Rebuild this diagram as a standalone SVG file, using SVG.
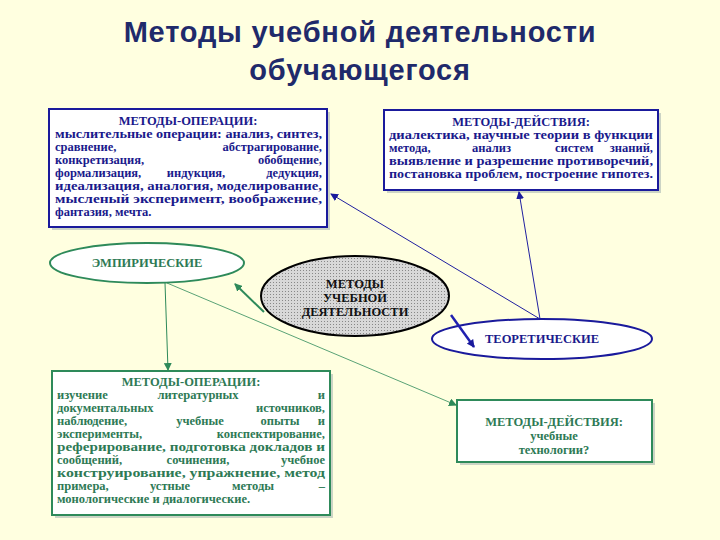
<svg xmlns="http://www.w3.org/2000/svg" width="720" height="540" viewBox="0 0 720 540">
<style>
.t{font-family:"Liberation Serif",serif;font-weight:bold;font-size:12.5px}
.b{fill:#1a1a8c}.g{fill:#2e7a55}
.h{font-family:"Liberation Sans",sans-serif;font-weight:bold;font-size:29px;letter-spacing:0.8px;fill:#1f2a6b;text-anchor:middle}
</style>
<defs>
<marker id="ab" markerWidth="8" markerHeight="8" refX="7" refY="4" orient="auto" markerUnits="userSpaceOnUse"><path d="M0,0L8,4L0,8z" fill="#1a1a9c"/></marker>
<marker id="ag" markerWidth="8" markerHeight="8" refX="7" refY="4" orient="auto" markerUnits="userSpaceOnUse"><path d="M0,0L8,4L0,8z" fill="#2e8a5a"/></marker>
<pattern id="p" width="3" height="3" patternUnits="userSpaceOnUse"><rect width="3" height="3" fill="#d8d8d8"/><rect width="1" height="1" fill="#888"/></pattern>
</defs>
<rect width="720" height="540" fill="#ffffe0"/>
<text class="h" x="360" y="42">Методы учебной деятельности</text>
<text class="h" x="360" y="80">обучающегося</text>
<g id="ops1">
<rect x="52" y="112" width="278" height="118" fill="#9aa" opacity="0.5"/>
<rect x="49" y="109" width="278" height="118" fill="#fff" stroke="#1a1a9c" stroke-width="2"/>
<text class="t b" x="188" y="125" text-anchor="middle">МЕТОДЫ-ОПЕРАЦИИ:</text>
<text class="t b" x="55" y="138" textLength="267" lengthAdjust="spacingAndGlyphs">мыслительные операции: анализ, синтез,</text>
<text class="t b" x="55" y="151">сравнение,</text><text class="t b" x="322" y="151" text-anchor="end">абстрагирование,</text>
<text class="t b" x="55" y="164">конкретизация,</text><text class="t b" x="322" y="164" text-anchor="end">обобщение,</text>
<text class="t b" x="55" y="177">формализация,</text><text class="t b" x="196" y="177" text-anchor="middle">индукция,</text><text class="t b" x="322" y="177" text-anchor="end">дедукция,</text>
<text class="t b" x="55" y="190" textLength="267" lengthAdjust="spacingAndGlyphs">идеализация, аналогия, моделирование,</text>
<text class="t b" x="55" y="203" textLength="267" lengthAdjust="spacingAndGlyphs">мысленый эксперимент, воображение,</text>
<text class="t b" x="55" y="216">фантазия, мечта.</text>
</g>
<g id="act1">
<rect x="387" y="113" width="274" height="80" fill="#9aa" opacity="0.5"/>
<rect x="384" y="110" width="274" height="80" fill="#fff" stroke="#1a1a9c" stroke-width="2"/>
<text class="t b" x="521" y="126" text-anchor="middle">МЕТОДЫ-ДЕЙСТВИЯ:</text>
<text class="t b" x="389" y="139" textLength="264" lengthAdjust="spacingAndGlyphs">диалектика, научные теории в функции</text>
<text class="t b" x="389" y="152">метода,</text><text class="t b" x="472" y="152">анализ</text><text class="t b" x="555" y="152">систем</text><text class="t b" x="653" y="152" text-anchor="end">знаний,</text>
<text class="t b" x="389" y="165" textLength="264" lengthAdjust="spacingAndGlyphs">выявление и разрешение противоречий,</text>
<text class="t b" x="389" y="178" textLength="264" lengthAdjust="spacingAndGlyphs">постановка проблем, построение гипотез.</text>
</g>
<g id="emp">
<ellipse cx="147" cy="263" rx="97" ry="20" fill="#fff" stroke="#2e8a5a" stroke-width="2"/>
<text class="t g" x="147" y="267" text-anchor="middle">ЭМПИРИЧЕСКИЕ</text>
</g>
<g id="center">
<ellipse cx="355" cy="296" rx="94" ry="40" fill="url(#p)" stroke="#000" stroke-width="2"/>
<text class="t" x="355" y="288" text-anchor="middle" fill="#111">МЕТОДЫ</text>
<text class="t" x="355" y="302" text-anchor="middle" fill="#111">УЧЕБНОЙ</text>
<text class="t" x="355" y="316" text-anchor="middle" fill="#111">ДЕЯТЕЛЬНОСТИ</text>
</g>
<g id="theo">
<ellipse cx="542" cy="339" rx="110" ry="20" fill="#fff" stroke="#1a1a9c" stroke-width="2"/>
<text class="t b" x="542" y="343" text-anchor="middle">ТЕОРЕТИЧЕСКИЕ</text>
</g>
<g id="ops2">
<rect x="55" y="374" width="278" height="144" fill="#9aa" opacity="0.5"/>
<rect x="52" y="371" width="278" height="144" fill="#fff" stroke="#2e8a5a" stroke-width="2"/>
<text class="t g" x="191" y="386" text-anchor="middle">МЕТОДЫ-ОПЕРАЦИИ:</text>
<text class="t g" x="57" y="399">изучение</text><text class="t g" x="198" y="399" text-anchor="middle">литературных</text><text class="t g" x="325" y="399" text-anchor="end">и</text>
<text class="t g" x="57" y="412">документальных</text><text class="t g" x="325" y="412" text-anchor="end">источников,</text>
<text class="t g" x="57" y="425">наблюдение,</text><text class="t g" x="200" y="425" text-anchor="middle">учебные</text><text class="t g" x="280" y="425" text-anchor="middle">опыты</text><text class="t g" x="325" y="425" text-anchor="end">и</text>
<text class="t g" x="57" y="438">эксперименты,</text><text class="t g" x="325" y="438" text-anchor="end">конспектирование,</text>
<text class="t g" x="57" y="451" textLength="268" lengthAdjust="spacingAndGlyphs">реферирование, подготовка докладов и</text>
<text class="t g" x="57" y="464">сообщений,</text><text class="t g" x="198" y="464" text-anchor="middle">сочинения,</text><text class="t g" x="325" y="464" text-anchor="end">учебное</text>
<text class="t g" x="57" y="477" textLength="268" lengthAdjust="spacingAndGlyphs">конструирование, упражнение, метод</text>
<text class="t g" x="57" y="490">примера,</text><text class="t g" x="150" y="490">устные</text><text class="t g" x="232" y="490">методы</text><text class="t g" x="325" y="490" text-anchor="end">–</text>
<text class="t g" x="57" y="503">монологические и диалогические.</text>
</g>
<g id="act2">
<rect x="460" y="403" width="195" height="62" fill="#9aa" opacity="0.5"/>
<rect x="457" y="400" width="195" height="62" fill="#fff" stroke="#2e8a5a" stroke-width="2"/>
<text class="t g" x="554" y="426" text-anchor="middle">МЕТОДЫ-ДЕЙСТВИЯ:</text>
<text class="t g" x="554" y="440" text-anchor="middle">учебные</text>
<text class="t g" x="554" y="454" text-anchor="middle">технологии?</text>
</g>
<g id="connectors" fill="none">
<line x1="540" y1="319" x2="331" y2="194" stroke="#2020a0" stroke-width="1" marker-end="url(#ab)"/>
<line x1="540" y1="319" x2="519" y2="192" stroke="#2020a0" stroke-width="1" marker-end="url(#ab)"/>
<line x1="451" y1="315" x2="474" y2="347" stroke="#2020b0" stroke-width="2.5" marker-end="url(#ab)"/>
<line x1="264" y1="312" x2="235" y2="284" stroke="#2e8a5a" stroke-width="2" marker-end="url(#ag)"/>
<line x1="165" y1="283" x2="168" y2="370" stroke="#2e8a5a" stroke-width="1" marker-end="url(#ag)"/>
<line x1="167" y1="283" x2="456" y2="405" stroke="#2e8a5a" stroke-width="0.8" marker-end="url(#ag)"/>
</g>
</svg>
